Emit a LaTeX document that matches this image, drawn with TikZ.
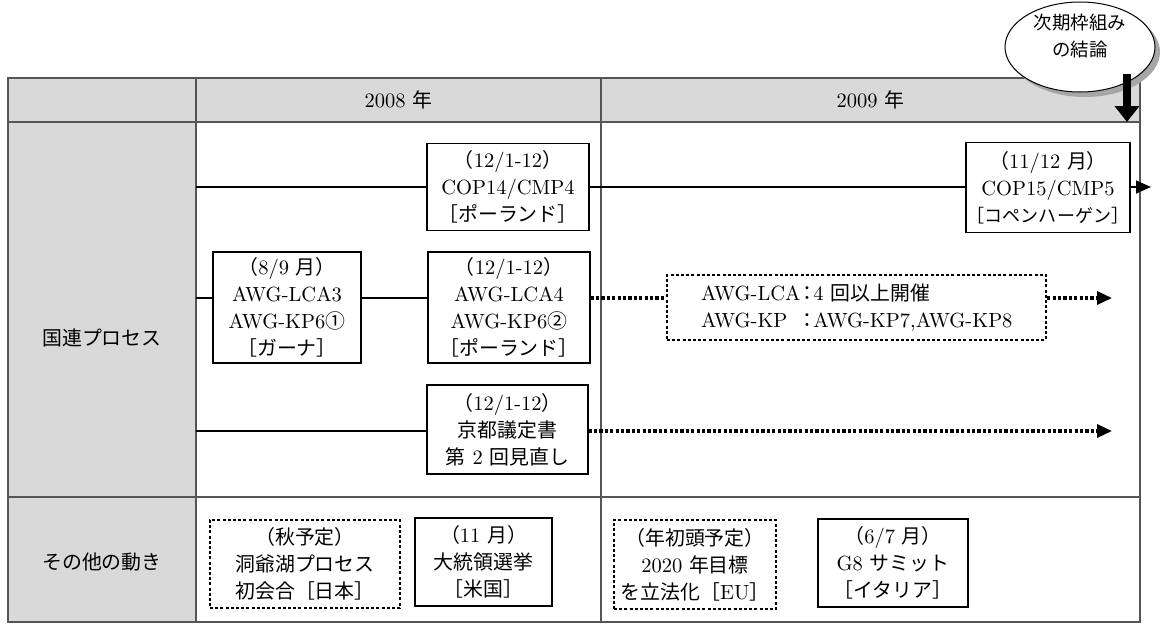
\documentclass[tikz,border=0pt]{standalone}
\usepackage{fontspec}
\setmainfont{lmroman10-regular}[Extension=.otf]
\newfontfamily\jpfont[Scale=0.97]{Noto Sans CJK JP}
\newcommand\J[1]{{\jpfont #1}}
\newcommand\colonJ{\kern-3.5pt\J{：}\kern-3.5pt}
\usetikzlibrary{arrows.meta,shapes.geometric,shadows}
\definecolor{hdr}{HTML}{D9D9D9}
\definecolor{rulec}{HTML}{555555}
\tikzset{
  txt/.style={font=\fontsize{20.5}{27}\selectfont, align=center, inner sep=0pt},
  evbox/.style={txt, draw=black, line width=1.2pt, fill=white},
  dotbox/.style={txt, draw=black, line width=2.4pt, dash pattern=on 3pt off 2.2pt, fill=white},
  solidline/.style={line width=1.9pt},
  dotline/.style={line width=3.4pt, dash pattern=on 3.2pt off 2.2pt},
  tipend/.style={-{Triangle[length=15pt,width=13pt]}},
  gridline/.style={draw=rulec, line width=1.4pt},
}
\begin{document}
\begin{tikzpicture}[x=1pt,y=-1pt]
\useasboundingbox (0,0) rectangle (1168,624);
% table
\fill[hdr] (8,78) rectangle (1140,122);
\fill[hdr] (8,122) rectangle (196,622);
\draw[gridline] (8,78) rectangle (1140,622);
\draw[gridline] (8,122) -- (1140,122);
\draw[gridline] (8,497) -- (1140,497);
\draw[gridline] (196,78) -- (196,622);
\draw[gridline] (601,78) -- (601,622);
\node[txt] (y2008) at (398.5,100) {2008 \J{年}};
\node[txt] (y2009) at (870.5,100) {2009 \J{年}};
\node[txt] (lbl1) at (102,338) {\J{国連プロセス}};
\node[txt] (lbl2) at (102,562) {\J{その他の動き}};

% row 1
\node[evbox, minimum width=162pt, minimum height=87pt] (cop14) at (508,187)
  {\J{（}12/1-12\J{）}\\COP14/CMP4\\\J{［ポーランド］}};
\node[evbox, minimum width=164pt, minimum height=90pt] (cop15) at (1048,187.5)
  {\J{（}11/12 \J{月）}\\COP15/CMP5\\\makebox[0pt]{\fontsize{18.6}{27}\selectfont\J{［コペンハーゲン］}}};
\coordinate (s1) at (196,187);
\coordinate (e1) at (1151,187);
\draw[line width=1.6pt] (s1) -- (cop14.west |- s1);
\draw[line width=1.6pt] (cop14.east |- s1) -- (cop15.west |- s1);
\draw[line width=1.6pt, tipend] (cop15.east |- s1) -- (e1);

% row 2
\node[evbox, minimum width=148pt, minimum height=111pt] (lca3) at (287,307.5)
  {\J{（}8/9 \J{月）}\\AWG-LCA3\\AWG-KP6\J{①}\\\J{［ガーナ］}};
\node[evbox, minimum width=162pt, minimum height=111pt] (lca4) at (509,307.5)
  {\J{（}12/1-12\J{）}\\AWG-LCA4\\AWG-KP6\J{②}\\\J{［ポーランド］}};
\node[dotbox, align=left, text width=311pt, inner xsep=34pt, minimum height=65pt] (awg) at (856.5,307.5)
  {\mbox{AWG-LCA\colonJ 4 \J{回以上開催}}\\\mbox{\rlap{AWG-KP}\phantom{AWG-LCA}\colonJ AWG-KP7,AWG-KP8}};
\coordinate (s2) at (196,298);
\coordinate (e2) at (1112,298);
\draw[solidline] (s2) -- (lca3.west |- s2);
\draw[line width=2.3pt] (lca3.east |- s2) -- (lca4.west |- s2);
\draw[dotline] (lca4.east |- s2) -- (awg.west |- s2);
\draw[dotline, tipend] (awg.east |- s2) -- (e2);

% row 3
\node[evbox, minimum width=161pt, minimum height=89pt] (kyoto) at (507.5,429.5)
  {\J{（}12/1-12\J{）}\\\J{京都議定書}\\\J{第} 2 \J{回見直し}};
\coordinate (s3) at (196,431);
\coordinate (e3) at (1112,431);
\draw[solidline] (s3) -- (kyoto.west |- s3);
\draw[dotline, tipend] (kyoto.east |- s3) -- (e3);

% other movements
\node[dotbox, minimum width=190pt, minimum height=88pt] (toya) at (305,564)
  {\J{（秋予定）}\\\J{洞爺湖プロセス}\\\J{初会合［日本］}};
\node[evbox, minimum width=137pt, minimum height=88pt] (us) at (483.5,562)
  {\J{（}11 \J{月）}\\\J{大統領選挙}\\\J{［米国］}};
\node[dotbox, minimum width=162pt, minimum height=89pt] (eu) at (695,564.5)
  {\J{（年初頭予定）}\\2020 \J{年目標}\\\J{を立法化［}EU\J{］}};
\node[evbox, minimum width=150pt, minimum height=88pt] (g8) at (893,563)
  {\J{（}6/7 \J{月）}\\G8 \J{サミット}\\\J{［イタリア］}};

% bubble and arrow
\node[ellipse, draw=black, line width=1pt, fill=white, inner sep=0pt,
      minimum width=150pt, minimum height=90pt,
      drop shadow={shadow xshift=5pt, shadow yshift=-5pt, fill=gray!70, opacity=1}] (bubble) at (1080,47) {};
\node[txt, font=\fontsize{19}{27}\selectfont] (bubbletext) at (1080,36) {\J{次期枠組み}\\\J{の結論}};
\coordinate (bs) at (1127,74);
\coordinate (be) at (1127,122);
\draw[line width=8pt, -{Triangle[length=16pt,width=24pt]}] (bs) -- (be);
\end{tikzpicture}
\end{document}
